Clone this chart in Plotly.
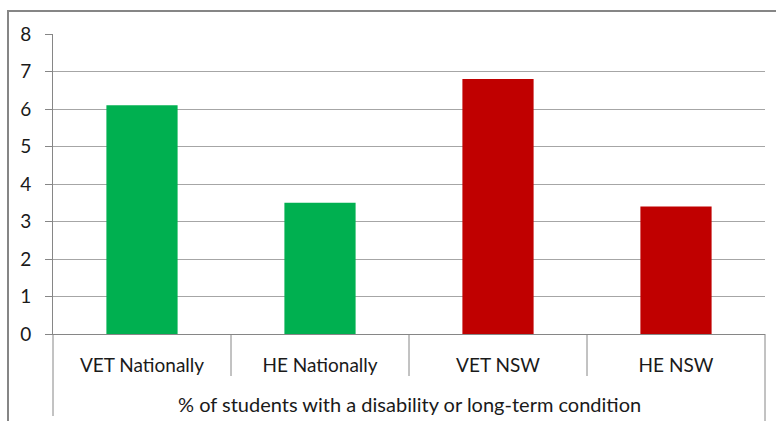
import plotly.graph_objects as go

categories = ["VET Nationally", "HE Nationally", "VET NSW", "HE NSW"]
values = [6.1, 3.5, 6.8, 3.4]
bar_colors = ["#00B050", "#00B050", "#C00000", "#C00000"]
group_label = "% of students with a disability or long-term condition"
y_ticks = [0, 1, 2, 3, 4, 5, 6, 7, 8]

W, H = 776, 421
L, R, T, B = 53, 11, 34, 87
pw, ph = W - L - R, H - T - B


def px_x(x):
    return (x - L) / pw


def px_y(y):
    return (H - B - y) / ph


font = "Lato, Calibri, Carlito, sans-serif"
text_color = "#1a1a1a"
grid = "#A6A6A6"
line = "#868686"

fig = go.Figure(
    go.Bar(
        x=categories,
        y=values,
        marker=dict(color=bar_colors, line=dict(width=0)),
        width=0.4,
        hoverinfo="x+y",
    )
)

shapes = []
# outer chart border
shapes.append(dict(type="rect", xref="paper", yref="paper",
                   x0=px_x(8), x1=px_x(W + 20), y0=px_y(H + 20), y1=px_y(11),
                   line=dict(color=line, width=2), layer="below"))
# category table lines under the axis
for k in range(1, 4):
    xb = k / 4
    shapes.append(dict(type="line", xref="paper", yref="paper",
                       x0=xb, x1=xb, y0=0, y1=px_y(376),
                       line=dict(color=line, width=1)))
shapes.append(dict(type="line", xref="paper", yref="paper",
                   x0=0, x1=0, y0=0, y1=px_y(416),
                   line=dict(color=line, width=1)))
shapes.append(dict(type="line", xref="paper", yref="paper",
                   x0=1, x1=1, y0=0, y1=px_y(H + 5),
                   line=dict(color=line, width=1)))

fig.update_layout(
    width=W, height=H,
    margin=dict(l=L, r=R, t=T, b=B),
    paper_bgcolor="white", plot_bgcolor="white",
    showlegend=False,
    bargap=0.6,
    font=dict(family=font, size=19, color=text_color),
    shapes=shapes,
    annotations=[dict(text=group_label, xref="paper", yref="paper",
                      x=0.5, y=px_y(404), showarrow=False,
                      font=dict(family=font, size=20, color=text_color),
                      xanchor="center", yanchor="middle")],
    xaxis=dict(type="category", showgrid=False, showline=True,
               linecolor=line, linewidth=1, ticks="", ticklabelstandoff=14,
               tickfont=dict(family=font, size=19, color=text_color),
               fixedrange=True),
    yaxis=dict(range=[0, 8], tickvals=y_ticks, showgrid=True, gridcolor=grid,
               gridwidth=1, zeroline=False, showline=True, linecolor=line,
               linewidth=1, ticks="outside", ticklen=7, tickcolor=line,
               ticklabelstandoff=10,
               tickfont=dict(family=font, size=19, color=text_color),
               fixedrange=True),
)

fig.write_html("out.html")
